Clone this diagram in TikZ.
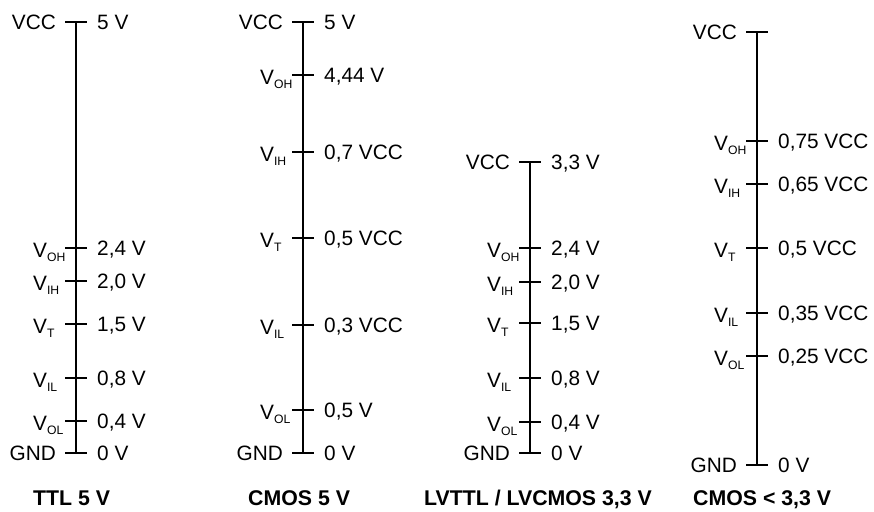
\documentclass[tikz,border=0pt]{standalone}
\usepackage{fontspec}
\setmainfont{Liberation Sans}
\tikzset{
  axisline/.style={line width=2.9pt},
  lab/.style={font=\fontsize{20.8}{24}\selectfont, inner sep=0pt},
  ttl/.style={font=\bfseries\fontsize{21.3}{24}\selectfont, inner sep=0pt, anchor=base west},
}
\newcommand\Vsub[1]{V\raisebox{-3.5pt}{\fontsize{12.2}{14}\selectfont #1}}
% tick with right-aligned plain left label (VCC / GND)
\newcommand\tickP[5]{%
  \coordinate (#1a) at (#2-11,#3); \coordinate (#1b) at (#2+11,#3);
  \draw[axisline] (#1a) -- (#1b);
  \node[lab,anchor=base east] (#1L) at (#2-20,#3+7.5) {#4};
  \ifx\relax#5\relax\else\node[lab,anchor=base west] (#1R) at (#2+21,#3+7.5) {#5};\fi}
% tick with left-aligned V_x label
\newcommand\tickV[5]{%
  \coordinate (#1a) at (#2-11,#3); \coordinate (#1b) at (#2+11,#3);
  \draw[axisline] (#1a) -- (#1b);
  \node[lab,anchor=base west] (#1L) at (#2-43,#3+9.5) {\Vsub{#4}};
  \node[lab,anchor=base west] (#1R) at (#2+21,#3+7.5) {#5};}
\begin{document}
\begin{tikzpicture}[x=1pt,y=-1pt]
\useasboundingbox (0,0) rectangle (874,511);
% ---------- column 1: TTL 5 V ----------
\coordinate (a1top) at (76,22); \coordinate (a1bot) at (76,453);
\draw[axisline] (a1top) -- (a1bot);
\tickP{a1vcc}{76}{22}{VCC}{5 V}
\tickV{a1voh}{76}{248}{OH}{2,4 V}
\tickV{a1vih}{76}{281}{IH}{2,0 V}
\tickV{a1vt}{76}{324}{T}{1,5 V}
\tickV{a1vil}{76}{378}{IL}{0,8 V}
\tickV{a1vol}{76}{421}{OL}{0,4 V}
\tickP{a1gnd}{76}{453}{GND}{0 V}
\node[ttl] (t1) at (33,505) {TTL 5 V};
% ---------- column 2: CMOS 5 V ----------
\coordinate (a2top) at (303,22); \coordinate (a2bot) at (303,453);
\draw[axisline] (a2top) -- (a2bot);
\tickP{a2vcc}{303}{22}{VCC}{5 V}
\tickV{a2voh}{303}{75}{OH}{4,44 V}
\tickV{a2vih}{303}{152}{IH}{0,7 VCC}
\tickV{a2vt}{303}{238}{T}{0,5 VCC}
\tickV{a2vil}{303}{325}{IL}{0,3 VCC}
\tickV{a2vol}{303}{410}{OL}{0,5 V}
\tickP{a2gnd}{303}{453}{GND}{0 V}
\node[ttl] (t2) at (248,505) {CMOS 5 V};
% ---------- column 3: LVTTL / LVCMOS 3,3 V ----------
\coordinate (a3top) at (530,162); \coordinate (a3bot) at (530,453);
\draw[axisline] (a3top) -- (a3bot);
\tickP{a3vcc}{530}{162}{VCC}{3,3 V}
\tickV{a3voh}{530}{248}{OH}{2,4 V}
\tickV{a3vih}{530}{282}{IH}{2,0 V}
\tickV{a3vt}{530}{323}{T}{1,5 V}
\tickV{a3vil}{530}{378}{IL}{0,8 V}
\tickV{a3vol}{530}{422}{OL}{0,4 V}
\tickP{a3gnd}{530}{453}{GND}{0 V}
\node[ttl] (t3) at (424,505) {LVTTL / LVCMOS 3,3 V};
% ---------- column 4: CMOS < 3,3 V ----------
\coordinate (a4top) at (757,32); \coordinate (a4bot) at (757,465);
\draw[axisline] (a4top) -- (a4bot);
\tickP{a4vcc}{757}{32}{VCC}{}
\tickV{a4voh}{757}{141}{OH}{0,75 VCC}
\tickV{a4vih}{757}{184}{IH}{0,65 VCC}
\tickV{a4vt}{757}{248}{T}{0,5 VCC}
\tickV{a4vil}{757}{313}{IL}{0,35 VCC}
\tickV{a4vol}{757}{356}{OL}{0,25 VCC}
\tickP{a4gnd}{757}{465}{GND}{0 V}
\node[ttl] (t4) at (693,505) {CMOS < 3,3 V};
\end{tikzpicture}
\end{document}
